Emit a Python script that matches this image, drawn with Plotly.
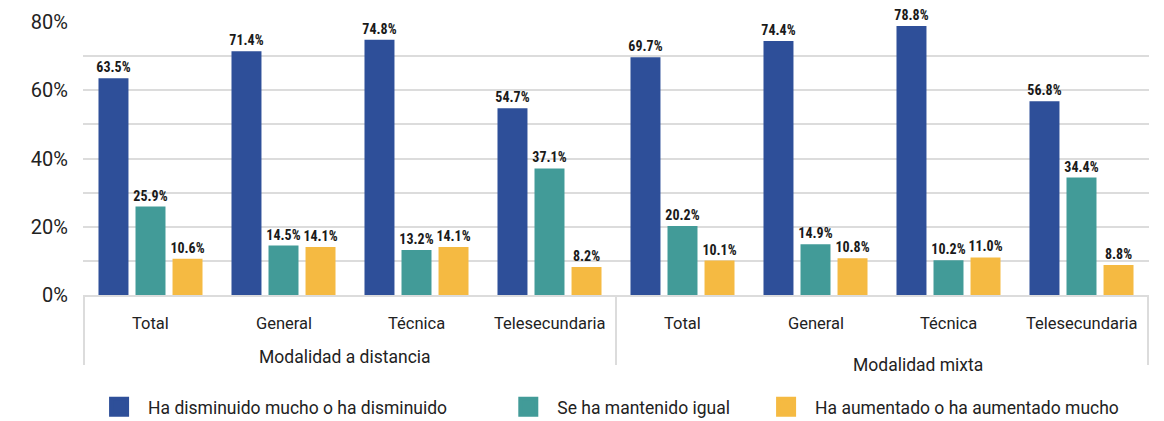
import plotly.graph_objects as go

modalities = ["Modalidad a distancia"] * 4 + ["Modalidad mixta"] * 4
school_types = ["Total", "General", "Técnica", "Telesecundaria"] * 2
group_labels = ["Modalidad a distancia", "Modalidad mixta"]

disminuido = [63.5, 71.4, 74.8, 54.7, 69.7, 74.4, 78.8, 56.8]
igual = [25.9, 14.5, 13.2, 37.1, 20.2, 14.9, 10.2, 34.4]
aumentado = [10.6, 14.1, 14.1, 8.2, 10.1, 10.8, 11.0, 8.8]

series_names = [
    "Ha disminuido mucho o ha disminuido",
    "Se ha mantenido igual",
    "Ha aumentado o ha aumentado mucho",
]
colors = ["#2e4f99", "#429b98", "#f5ba42"]

FONT = "Roboto, Arial, sans-serif"
LABEL_FONT = "Liberation Sans Narrow, Roboto Condensed, Roboto, sans-serif"
GRID = "#dcdcdc"
TEXT = "#222222"

# page body has an 8px margin, so the figure is a bit smaller than the window
W, H = 1156, 413
PLOT_H = 273

fig = go.Figure()

legend_ids = ["legend", "legend2", "legend3"]
legend_x = [0.071, 0.425, 0.648]

for i, (name, vals, color) in enumerate(zip(series_names, [disminuido, igual, aumentado], colors)):
    fig.add_trace(
        go.Bar(
            x=[modalities, school_types],
            y=[v / 100 for v in vals],
            name=name,
            marker=dict(color=color, line=dict(width=0)),
            text=[f"{v:.1f}%" for v in vals],
            textposition="outside",
            constraintext="none",
            textfont=dict(family=LABEL_FONT, size=14, color="#1a1a1a", weight="bold"),
            cliponaxis=False,
            showlegend=False,
        )
    )
    # legend-only marker, one legend per series so the spacing can follow the source
    fig.add_trace(
        go.Scatter(
            x=[[modalities[0]], [school_types[0]]],
            y=[None],
            mode="markers",
            name=name,
            marker=dict(symbol="square", size=16, color=color, line=dict(color=color, width=4)),
            showlegend=True,
            legend=legend_ids[i],
        )
    )

legend_common = dict(
    orientation="h",
    xref="container",
    yref="container",
    xanchor="left",
    y=0.034,
    yanchor="middle",
    font=dict(family=FONT, size=17.5, color=TEXT),
    itemwidth=48,
    bgcolor="rgba(0,0,0,0)",
    borderwidth=0,
)

fig.update_layout(
    width=W,
    height=H,
    template="plotly_white",
    paper_bgcolor="white",
    plot_bgcolor="white",
    barmode="group",
    bargap=0.165,
    bargroupgap=0.19,
    margin=dict(l=75, r=15, t=14, b=H - 14 - PLOT_H),
    font=dict(family=FONT, size=16, color=TEXT),
    legend=dict(x=legend_x[0], **legend_common),
    legend2=dict(x=legend_x[1], **legend_common),
    legend3=dict(x=legend_x[2], **legend_common),
)

fig.update_yaxes(
    range=[0, 0.8],
    tickvals=[0, 0.2, 0.4, 0.6, 0.8],
    tickformat=".0%",
    tickfont=dict(family=FONT, size=20, color=TEXT),
    ticklabelstandoff=14,
    showgrid=True,
    gridcolor=GRID,
    gridwidth=1.5,
    minor=dict(dtick=0.1, showgrid=True, gridcolor=GRID, gridwidth=1.5),
    zeroline=False,
    ticklen=0,
    automargin=False,
)

fig.update_xaxes(
    type="multicategory",
    showline=True,
    linecolor=GRID,
    linewidth=2,
    showdividers=False,
    showticklabels=False,
    showgrid=False,
    automargin=False,
)

# category labels (two rows) and the group separators below the axis
for i, label in enumerate(school_types):
    fig.add_annotation(
        x=i, xref="x", y=-28 / PLOT_H, yref="paper",
        text=label, showarrow=False, yanchor="middle",
        font=dict(family=FONT, size=16.5, color=TEXT),
    )

group_pos = [(1.46, -62 / PLOT_H), (5.77, -70 / PLOT_H)]
for label, (gx, gy) in zip(group_labels, group_pos):
    fig.add_annotation(
        x=gx, xref="x", y=gy, yref="paper",
        text=label, showarrow=False, yanchor="middle",
        font=dict(family=FONT, size=17.5, color=TEXT),
    )

for xd in [-0.5, 3.5, 7.5]:
    fig.add_shape(
        type="line", xref="x", yref="paper",
        x0=xd, x1=xd, y0=0, y1=-70 / PLOT_H,
        line=dict(color=GRID, width=2),
    )

fig.write_html("out.html")
